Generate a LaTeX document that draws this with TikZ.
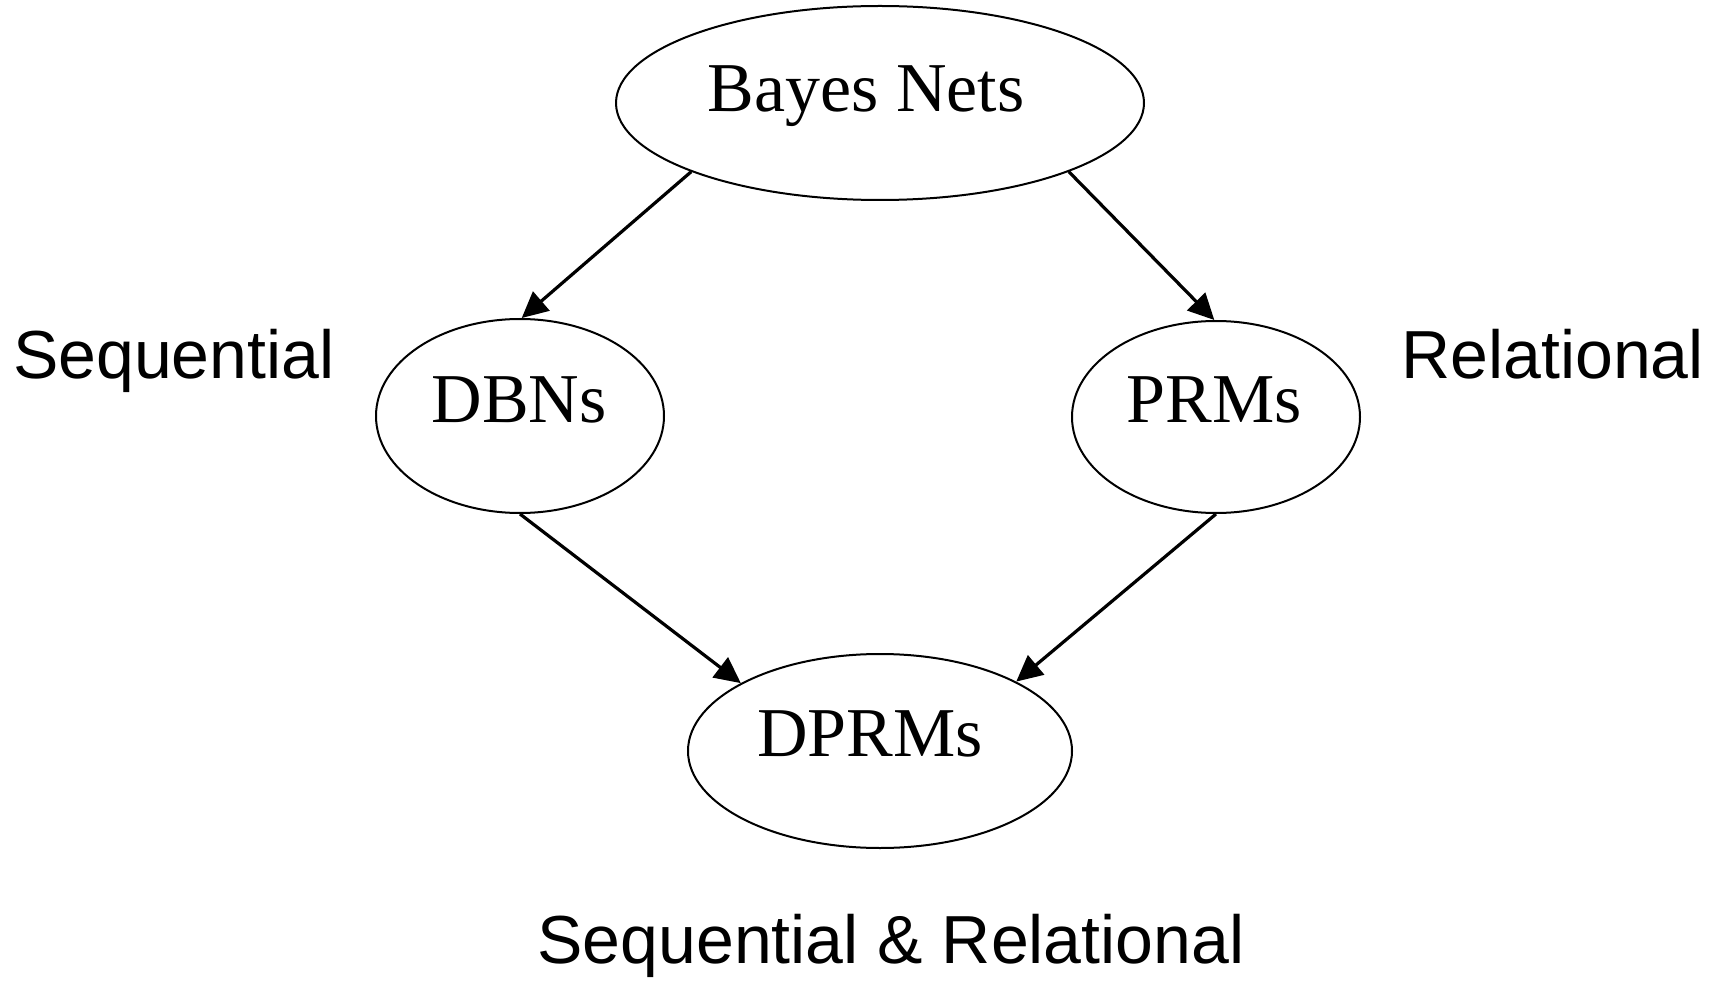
\documentclass[tikz,border=0pt]{standalone}
\usepackage{fontspec}
\setmainfont{Liberation Serif}
\setsansfont{Liberation Sans}
\usetikzlibrary{arrows.meta,shapes.geometric}
\begin{document}
\begin{tikzpicture}[x=1pt,y=-1pt,
  oval/.style={draw,ellipse,line width=2pt,inner sep=0pt},
  lbl/.style={anchor=base,inner sep=0pt,font=\fontsize{70}{84}\selectfont},
  side/.style={anchor=base west,inner sep=0pt,font=\sffamily\fontsize{68}{82}\selectfont},
  conn/.style={line width=3.2pt,-{Triangle[length=26pt,width=25pt]}}]
\useasboundingbox (0,0) rectangle (1724,981);
\node[oval,minimum width=528pt,minimum height=194pt] (B) at (880,103) {};
\node[oval,minimum width=288pt,minimum height=194pt] (D) at (520,416) {};
\node[oval,minimum width=288pt,minimum height=192pt] (P) at (1216,417) {};
\node[oval,minimum width=384pt,minimum height=194pt] (DP) at (880,751) {};
\node[lbl] (tB) at (866,112) {Bayes Nets};
\node[lbl] (tD) at (519,422) {DBNs};
\node[lbl] (tP) at (1214,422) {PRMs};
\node[lbl] (tDP) at (870,756) {DPRMs};
\node[side] (seq) at (13,379) {Sequential};
\node[side,anchor=base east] (rel) at (1704,379) {Relational};
\node[side,anchor=base] (sr) at (891,963) {Sequential \& Relational};
\draw[conn] (B.200) -- (D.89);
\draw[conn] (B.-20) -- (P.91);
\draw[conn] (D.-90) -- (DP.154);
\draw[conn] (P.-90) -- (DP.27);
\end{tikzpicture}
\end{document}
